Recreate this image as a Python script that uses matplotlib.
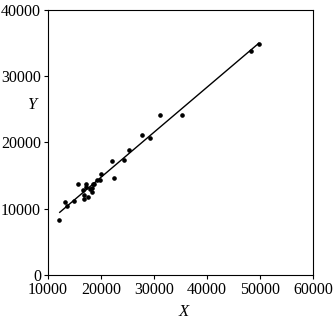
import numpy as np
import matplotlib.pyplot as plt

# datos
x_vals = [12075, 13200, 13585, 14970, 15600, 16600, 16730, 16730, 17100, 17230,
          17610, 17990, 18240, 18240, 18490, 18740, 19245, 19750, 20000, 22140,
          22520, 24400, 25220, 27670, 29310, 31130, 35350, 48300, 49750]
y_vals = [8342, 11055, 10452, 11150, 13720, 12860, 11460, 12110, 13770, 13270,
          11760, 13015, 12460, 13070, 13670, 13770, 14370, 14370, 15180, 17240,
          14620, 17290, 18900, 21060, 20650, 24170, 24170, 33820, 34820]
x_ticks = [10000, 20000, 30000, 40000, 50000, 60000]
y_ticks = [0, 10000, 20000, 30000, 40000]

plt.rcParams['font.family'] = ['Liberation Serif', 'DejaVu Serif']

fig = plt.figure(figsize=(3.33, 3.2), dpi=100)
ax = fig.add_axes([0.144, 0.141, 0.796, 0.828])

# puntos
ax.plot(x_vals, y_vals, 'o', color='black', markersize=2.3)

# recta de regresion
x = np.array(x_vals)
y = np.array(y_vals)
m, b = np.polyfit(x, y, 1)
xl = np.array([x.min() + 150, x.max()])
ax.plot(xl, m * xl + b, color='black', linewidth=1.0)

ax.set_xlim(10000, 60000)
ax.set_ylim(0, 40000)
ax.set_xticks(x_ticks)
ax.set_yticks(y_ticks)
ax.tick_params(direction='out', length=3, width=0.8, labelsize=11.5, pad=2)
for s in ax.spines.values():
    s.set_linewidth(0.8)

ax.set_xlabel('X', fontsize=12, style='italic')
ax.set_ylabel('Y', fontsize=12, style='italic', rotation=0)
ax.xaxis.set_label_coords(0.51, -0.11)
ax.yaxis.set_label_coords(-0.06, 0.61)

plt.savefig('out.png', dpi=100)
